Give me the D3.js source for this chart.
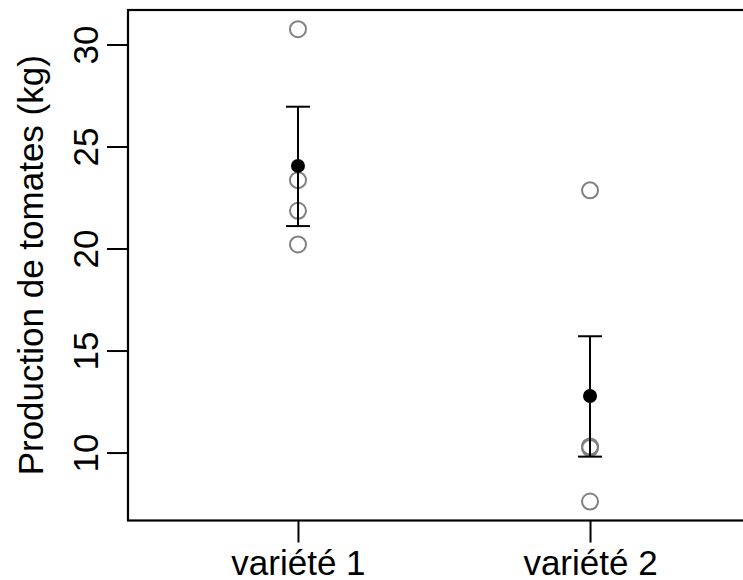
<!DOCTYPE html>
<html>
<head>
<meta charset="utf-8">
<script src="https://cdn.jsdelivr.net/npm/d3@7"></script>
<style>
  html, body { margin: 0; padding: 0; background: #fff; }
  svg { display: block; }
  text { font-family: "Liberation Sans", Arial, Helvetica, sans-serif; fill: #000; }
</style>
</head>
<body>
<svg id="chart" width="743" height="580"></svg>
<script>
// Tomato yield per plant for two varieties: raw observations, mean and error bar
const categories = ["variété 1", "variété 2"];
const obsVariete1 = [30.75, 23.35, 21.85, 20.2];
const obsVariete2 = [22.85, 10.3, 10.22, 7.6];
const means = [24.05, 12.77];
const lowerBars = [21.1, 9.8];
const upperBars = [26.95, 15.7];
const yTicks = [10, 15, 20, 25, 30];
const yTitle = "Production de tomates (kg)";

const observations = [obsVariete1, obsVariete2];

const svg = d3.select("#chart");
const plotLeft = 128, plotTop = 10, plotBottom = 520.5, plotRight = 760;

const x = d3.scaleLinear().domain([0.418, 2.582]).range([plotLeft, plotRight]);
const y = d3.scaleLinear().domain([6.67, 31.69]).range([plotBottom, plotTop]);

// plot frame (right edge runs past the page)
svg.append("rect")
  .attr("x", plotLeft).attr("y", plotTop)
  .attr("width", plotRight - plotLeft).attr("height", plotBottom - plotTop)
  .attr("fill", "none").attr("stroke", "#000").attr("stroke-width", 2.2);

// y axis
const yAxis = svg.append("g")
  .attr("transform", `translate(${plotLeft},0)`)
  .call(d3.axisLeft(y).tickValues(yTicks).tickSize(21).tickSizeOuter(0).tickFormat(d3.format("d")));
yAxis.select(".domain").remove();
yAxis.selectAll(".tick line").attr("stroke", "#000").attr("stroke-width", 2);
yAxis.selectAll(".tick text")
  .attr("x", null).attr("dy", null)
  .attr("text-anchor", "middle")
  .attr("transform", "translate(-30,0) rotate(-90)")
  .style("font-size", "35px")
  .style("font-family", "'Liberation Sans', Arial, Helvetica, sans-serif");

// x axis
const xAxis = svg.append("g")
  .attr("transform", `translate(0,${plotBottom})`)
  .call(d3.axisBottom(x).tickValues([1, 2]).tickSize(22).tickSizeOuter(0)
    .tickFormat(d => categories[d - 1]));
xAxis.select(".domain").remove();
xAxis.selectAll(".tick line").attr("stroke", "#000").attr("stroke-width", 2);
xAxis.selectAll(".tick text")
  .attr("y", 54).attr("dy", null)
  .style("font-size", "35px")
  .style("font-family", "'Liberation Sans', Arial, Helvetica, sans-serif");

// y axis title
svg.append("text")
  .attr("transform", `translate(43,${(plotTop + plotBottom) / 2}) rotate(-90)`)
  .attr("text-anchor", "middle")
  .style("font-size", "35px")
  .text(yTitle);

// raw observations as open grey circles
observations.forEach((vals, i) => {
  svg.append("g").selectAll("circle")
    .data(vals)
    .join("circle")
    .attr("cx", x(i + 1))
    .attr("cy", d => y(d))
    .attr("r", 8)
    .attr("fill", "none")
    .attr("stroke", "#808080")
    .attr("stroke-width", 2);
});

// error bars
const bars = svg.append("g").attr("stroke", "#000").attr("stroke-width", 2);
categories.forEach((c, i) => {
  const cx = x(i + 1);
  bars.append("line")
    .attr("x1", cx).attr("x2", cx)
    .attr("y1", y(lowerBars[i])).attr("y2", y(upperBars[i]));
  [lowerBars[i], upperBars[i]].forEach(v => {
    bars.append("line")
      .attr("x1", cx - 12).attr("x2", cx + 12)
      .attr("y1", y(v)).attr("y2", y(v));
  });
});

// group means
svg.append("g").selectAll("circle")
  .data(means)
  .join("circle")
  .attr("cx", (d, i) => x(i + 1))
  .attr("cy", d => y(d))
  .attr("r", 7)
  .attr("fill", "#000");
</script>
</body>
</html>
